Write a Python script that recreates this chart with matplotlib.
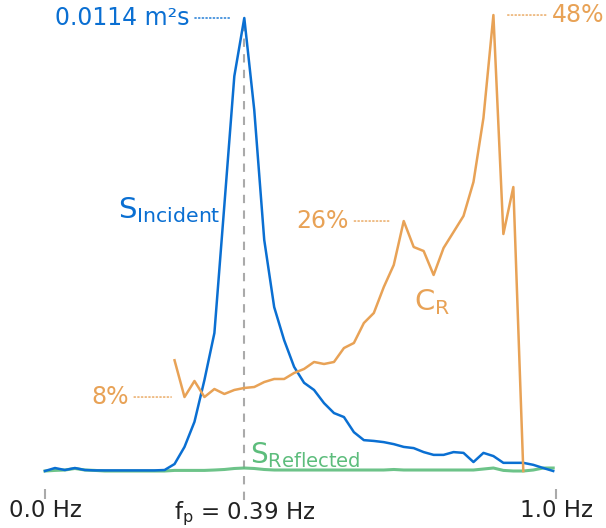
import numpy as np
import matplotlib
matplotlib.use("Agg")
import matplotlib.pyplot as plt

plt.rcParams['font.family'] = ['DejaVu Sans']
plt.rcParams['mathtext.fontset'] = 'dejavusans'

# ---- data ----
freq = [0.0, 0.0195, 0.039, 0.0585, 0.078, 0.0975, 0.117, 0.1365, 0.156, 0.1755,
        0.195, 0.2145, 0.234, 0.2535, 0.273, 0.2925, 0.312, 0.3315, 0.351, 0.3705,
        0.39, 0.4095, 0.429, 0.4485, 0.468, 0.4875, 0.507, 0.5265, 0.546, 0.5655,
        0.585, 0.6045, 0.624, 0.6435, 0.663, 0.6825, 0.702, 0.7215, 0.741, 0.7605,
        0.78, 0.7995, 0.819, 0.8385, 0.858, 0.8775, 0.897, 0.9165, 0.936, 0.9555,
        0.975, 0.9945]

s_incident = [0.000025, 0.0001, 0.00005, 0.0001, 0.00005, 0.00004, 0.00004, 0.00004,
              0.00004, 0.00004, 0.00004, 0.00004, 0.00005, 0.0002, 0.00063, 0.00126,
              0.00231, 0.00349, 0.0067, 0.00994, 0.0114, 0.00909, 0.00583, 0.00414,
              0.00331, 0.00264, 0.00224, 0.00206, 0.00173, 0.00148, 0.00138, 0.001,
              0.0008, 0.00078, 0.00075, 0.0007, 0.00063, 0.0006, 0.0005, 0.00043,
              0.00043, 0.0005, 0.00048, 0.00025, 0.00048, 0.0004, 0.00023, 0.00023,
              0.00023, 0.00018, 0.0001, 0.000025]

s_reflected = [0.000025, 0.00004, 0.00005, 0.000088, 0.00005, 0.00004, 0.000025, 0.000025,
               0.000025, 0.000025, 0.000025, 0.000025, 0.000025, 0.00004, 0.00004, 0.00004,
               0.00004, 0.00005, 0.000063, 0.000088, 0.0001, 0.000088, 0.000063, 0.00005,
               0.00005, 0.00005, 0.00005, 0.00005, 0.00005, 0.00005, 0.00005, 0.00005,
               0.00005, 0.00005, 0.00005, 0.000063, 0.00005, 0.00005, 0.00005, 0.00005,
               0.00005, 0.00005, 0.00005, 0.00005, 0.000075, 0.0001, 0.00004, 0.000025,
               0.000025, 0.00005, 0.0001, 0.0001]

cr_freq = freq[13:49]
cr_pct = [11.7, 7.85, 9.53, 7.85, 8.69, 8.17, 8.59, 8.8, 8.9, 9.42, 9.74, 9.74,
          10.37, 10.79, 11.52, 11.31, 11.52, 12.98, 13.51, 15.6, 16.65, 19.37,
          21.68, 26.28, 23.56, 23.14, 20.63, 23.46, 25.13, 26.81, 30.37, 37.07,
          47.85, 24.92, 29.84, 0.1]

fp = 0.39
tick_pos = [0.0, fp, 1.0]
tick_labels = ['0.0 Hz', r'$\mathregular{f_p}$ = 0.39 Hz', '1.0 Hz']

BLUE = '#0a6fd2'
ORANGE = '#e8a256'
GREEN = '#5dbd7c'
GRAY = '#aaaaaa'

fig = plt.figure(figsize=(6.06, 5.28), dpi=100)
ax = fig.add_axes([45/606, 56/528, 511/606, 454/528])
ax.set_xlim(0, 1)
ax.set_ylim(0, 0.0114)
ax2 = ax.twinx()
ax2.set_ylim(0, 454/9.55)

for a in (ax, ax2):
    for sp in a.spines.values():
        sp.set_visible(False)
    a.set_yticks([])
ax2.set_xticks([])
ax.spines['bottom'].set_position(('outward', 12))
ax.set_xticks(tick_pos)
ax.set_xticklabels(tick_labels)
ax.tick_params(axis='x', length=7.2, width=1.5, color=GRAY, pad=0.5,
               labelsize=16.5, labelcolor='#222222')
ax.xaxis.get_major_ticks()[1].tick1line.set_visible(False)

# dashed peak frequency line
px = 0.0114 / 454
ax.plot([fp, fp], [-28 * px, max(s_incident)], color=GRAY, lw=1.5,
        ls=(0, (4, 3.5)), clip_on=False, zorder=1)

ax.plot(freq, s_reflected, color=GREEN, lw=2.2, alpha=0.9, zorder=2, clip_on=False)
ax.plot(freq, s_incident, color=BLUE, lw=1.8, zorder=3, clip_on=False)
ax2.plot(cr_freq, cr_pct, color=ORANGE, lw=1.8, zorder=3, clip_on=False)

# annotations
def note(axis, x, y, text, color, dx, ha):
    axis.annotate(text, xy=(x, y), xytext=(dx, 0), textcoords='offset pixels',
                  ha=ha, va='center', fontsize=17, color=color,
                  annotation_clip=False,
                  arrowprops=dict(arrowstyle='-', color=color, lw=1.0, ls=':',
                                  shrinkA=2, shrinkB=9.5))

ipk = int(np.argmax(s_incident))
note(ax, freq[ipk], s_incident[ipk], '0.0114 m²s', BLUE, -55, 'right')
note(ax2, cr_freq[32], cr_pct[32], '48%', ORANGE, 58, 'left')
note(ax2, cr_freq[23], cr_pct[23], '26%', ORANGE, -55, 'right')
note(ax2, cr_freq[1], cr_pct[1], '8%', ORANGE, -56, 'right')

# series labels
ax.text(0.3425, 0.00638, r'$\mathregular{S_{Incident}}$', color=BLUE, fontsize=21,
        ha='right', va='baseline')
ax2.text(0.722, 16.9, r'$\mathregular{C_R}$', color=ORANGE, fontsize=21,
         ha='left', va='baseline')
ax.text(0.401, 0.000226, r'$\mathregular{S_{Reflected}}$', color=GREEN, fontsize=20,
        ha='left', va='baseline')

fig.savefig('out.png', dpi=100)
